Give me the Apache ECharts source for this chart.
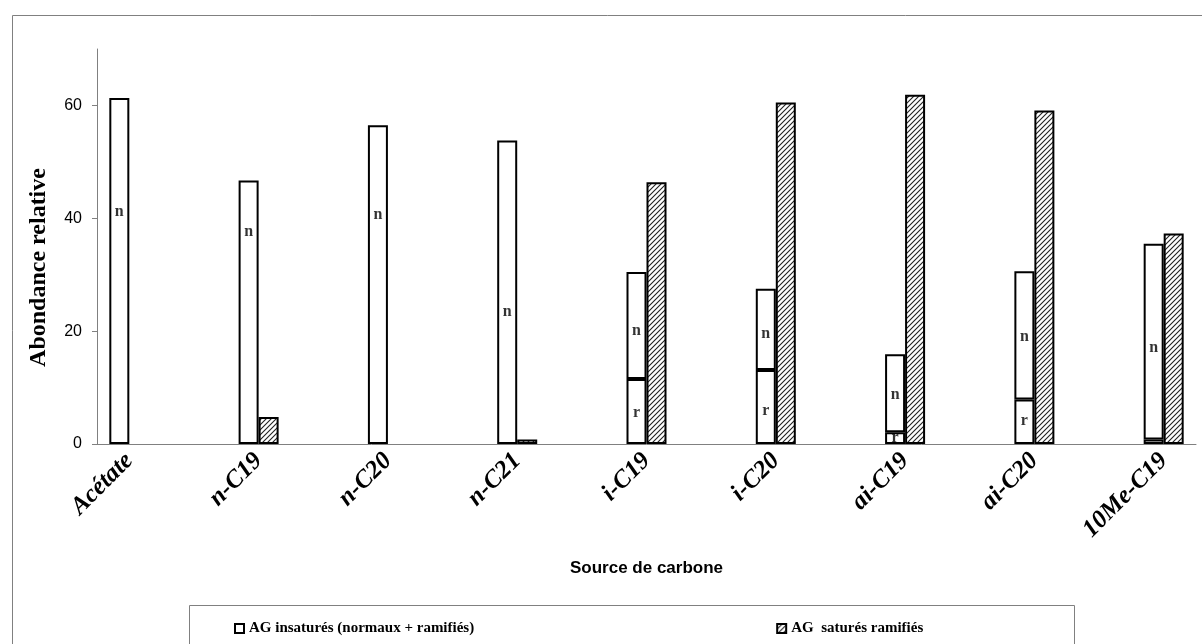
<!DOCTYPE html>
<html>
<head>
<meta charset="utf-8">
<script src="https://cdn.jsdelivr.net/npm/echarts@6/dist/echarts.min.js"></script>
<style>
html,body{margin:0;padding:0;background:#fff;}
#chart{width:1202px;height:644px;}
</style>
</head>
<body>
<div id="chart"></div>
<script>
// ---- data ----
const categories = ['Acétate','n-C19','n-C20','n-C21','i-C19','i-C20','ai-C19','ai-C20','10Me-C19'];
const ramifies  = [null, null, null, null, 11.5, 13.1, 2.1, 7.9, 0.8];   // "r" part of unsaturated FA
const normaux   = [61.3, 46.7, 56.5, 53.8, 19.0, 14.4, 13.8, 22.7, 34.7]; // "n" part of unsaturated FA
const satures   = [null, 4.8, null, 0.8, 46.4, 60.5, 61.9, 59.1, 37.3];   // branched saturated FA
const nLabelY   = [41.2, 37.6, 40.6, 23.4, 20.0, 19.5, 8.7, 18.9, 17.0];
const rLabelY   = [null, null, null, null, 5.5, 5.9, 1.0, 4.1, null];
const yTicks    = [0, 20, 40, 60];
const seriesNames = ['AG insaturés (normaux + ramifiés)', 'AG  saturés ramifiés'];

// expand to slots (each source followed by an empty slot, like the original axis)
function expand(arr, fill) {
  const out = [];
  arr.forEach((v, i) => { out.push(v); if (i < arr.length - 1) out.push(fill); });
  return out;
}
const slotCats = expand(categories, '');

function makeHatch() {
  const c = document.createElement('canvas');
  c.width = 5; c.height = 5;
  const g = c.getContext('2d');
  g.fillStyle = '#fff'; g.fillRect(0, 0, 5, 5);
  g.strokeStyle = '#222'; g.lineWidth = 1.1;
  g.beginPath();
  g.moveTo(0, 5); g.lineTo(5, 0);
  g.moveTo(-1, 1); g.lineTo(1, -1);
  g.moveTo(4, 6); g.lineTo(6, 4);
  g.stroke();
  return c;
}
const hatch = { image: makeHatch(), repeat: 'repeat' };

const BW = 20;
const serif = '"Liberation Serif", "Times New Roman", serif';
const sans = '"Liberation Sans", Arial, sans-serif';

const chart = echarts.init(document.getElementById('chart'), null, { renderer: 'canvas' });
const whiteStyle = { color: '#fff', borderColor: '#000', borderWidth: 2 };
const labelStyle = { show: true, fontFamily: serif, fontWeight: 'bold', fontSize: 16, color: '#000', offset: [-BW / 2, 0] };

chart.setOption({
  animation: false,
  backgroundColor: '#fff',
  grid: { left: 97, right: 6, top: 49, bottom: 200, containLabel: false },
  graphic: [
    { type: 'rect', left: 10, top: 13, shape: { width: 1200, height: 700 }, style: { fill: 'none', stroke: '#808080', lineWidth: 1 }, z: -1 },
    { type: 'rect', left: 187, top: 603, shape: { width: 885, height: 60 }, style: { fill: 'none', stroke: '#808080', lineWidth: 1 }, z: -1 }
  ],
  legend: {
    data: seriesNames,
    left: 229, top: 616,
    icon: 'rect',
    itemWidth: 9, itemHeight: 9, itemGap: 302,
    textStyle: { fontFamily: serif, fontWeight: 'bold', fontSize: 15, color: '#000' }
  },
  xAxis: {
    type: 'category',
    data: slotCats,
    boundaryGap: true,
    name: 'Source de carbone',
    nameLocation: 'middle',
    nameGap: 116,
    nameTextStyle: { fontFamily: sans, fontWeight: 'bold', fontSize: 17, color: '#000' },
    axisLine: { lineStyle: { color: '#808080', width: 1 } },
    axisTick: { interval: 0, length: 5, lineStyle: { color: '#808080' } },
    axisLabel: {
      interval: 0, rotate: 45, margin: 13,
      fontFamily: serif, fontWeight: 'bold', fontStyle: 'italic', fontSize: 25, color: '#000'
    },
    splitLine: { show: false }
  },
  yAxis: {
    type: 'value',
    min: 0, max: 70, interval: 20,
    name: 'Abondance relative',
    nameLocation: 'middle',
    nameRotate: 90,
    nameGap: 46,
    nameTextStyle: { fontFamily: serif, fontWeight: 'bold', fontSize: 24, color: '#000', padding: [0, 42, 0, 0] },
    axisLine: { show: true, lineStyle: { color: '#808080', width: 1 } },
    axisTick: { show: true, length: 5, lineStyle: { color: '#808080' }, customValues: yTicks },
    axisLabel: { margin: 15, fontFamily: sans, fontSize: 16, color: '#000', customValues: yTicks },
    splitLine: { show: false }
  },
  series: [
    { name: seriesNames[0], type: 'bar', stack: 'ins', barWidth: BW, barGap: '0%', data: expand(ramifies, null), itemStyle: whiteStyle },
    { name: seriesNames[0], type: 'bar', stack: 'ins', barWidth: BW, barGap: '0%', data: expand(normaux, null), itemStyle: whiteStyle },
    { name: seriesNames[1], type: 'bar', barWidth: BW, barGap: '0%', data: expand(satures, null), itemStyle: { color: hatch, borderColor: '#000', borderWidth: 2 } },
    { name: 'nlab', type: 'scatter', symbolSize: 0, data: expand(nLabelY, null), silent: true, z: 5,
      label: Object.assign({ formatter: 'n', position: 'inside' }, labelStyle) },
    { name: 'rlab', type: 'scatter', symbolSize: 0, data: expand(rLabelY, null), silent: true, z: 5,
      label: Object.assign({ formatter: 'r', position: 'inside' }, labelStyle) }
  ]
});
</script>
</body>
</html>
